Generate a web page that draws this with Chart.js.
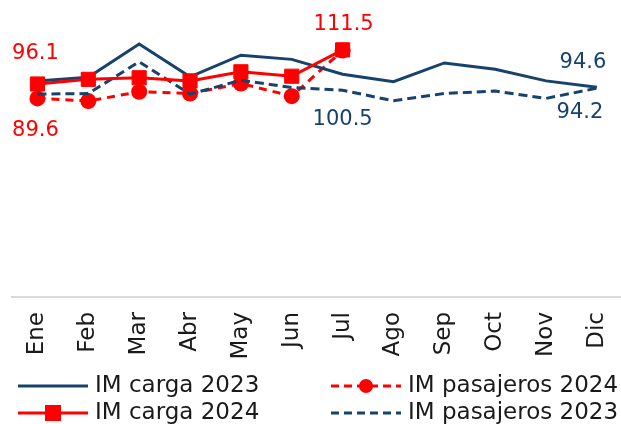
<!DOCTYPE html>
<html>
<head>
<meta charset="utf-8">
<script src="https://cdn.jsdelivr.net/npm/chart.js@4.4.1/dist/chart.umd.min.js"></script>
<style>
html, body { margin: 0; padding: 0; overflow: hidden; background: #fff; }
canvas { display: block; }
</style>
</head>
<body>
<canvas id="im_chart" width="640" height="440"></canvas>
<script>
const months = ["Ene", "Feb", "Mar", "Abr", "May", "Jun", "Jul", "Ago", "Sep", "Oct", "Nov", "Dic"];

const carga_2023 = [97.4, 99.1, 114.1, 99.3, 109.1, 107.2, 100.5, 97.1, 105.6, 102.7, 97.5, 94.6];
const carga_2024 = [96.1, 98.2, 98.9, 97.5, 101.6, 99.6, 111.5];
const pasajeros_2024 = [89.6, 88.4, 92.6, 91.8, 96.3, 90.6, 111.2];
const pasajeros_2023 = [91.5, 91.8, 106.1, 91.5, 97.8, 94.5, 93.3, 88.5, 91.8, 92.9, 89.6, 94.2];

const navy = "#17426e";
const red = "#ff0000";
const font_name = "'DejaVu Sans', sans-serif";

// which points get a value label, and where the text sits relative to the point
const value_labels = [
    { series: "IM carga 2024", index: 0, dx: -2, dy: -30, color: red },
    { series: "IM pasajeros 2024", index: 0, dx: -2, dy: 32, color: red },
    { series: "IM carga 2024", index: 6, dx: 1, dy: -25, color: red },
    { series: "IM carga 2023", index: 6, dx: 0, dy: 45, color: navy },
    { series: "IM carga 2023", index: 11, dx: -14, dy: -25, color: navy },
    { series: "IM pasajeros 2023", index: 11, dx: -17, dy: 24, color: navy },
];

// legend in two columns, as in the original
const legend_items = [
    { text: "IM carga 2023", color: navy, dash: [], marker: null, x: 18, y: 386 },
    { text: "IM pasajeros 2024", color: red, dash: [8, 5], marker: "circle", x: 331, y: 386 },
    { text: "IM carga 2024", color: red, dash: [], marker: "rect", x: 18, y: 413 },
    { text: "IM pasajeros 2023", color: navy, dash: [8, 5], marker: null, x: 331, y: 413 },
];

const valueLabelPlugin = {
    id: "valueLabels",
    afterDatasetsDraw(chart) {
        const ctx = chart.ctx;
        ctx.save();
        ctx.font = "21px " + font_name;
        ctx.textAlign = "center";
        ctx.textBaseline = "middle";
        value_labels.forEach((lbl) => {
            const ds_index = chart.data.datasets.findIndex((d) => d.label === lbl.series);
            const point = chart.getDatasetMeta(ds_index).data[lbl.index];
            const value = chart.data.datasets[ds_index].data[lbl.index];
            ctx.fillStyle = lbl.color;
            ctx.fillText(value.toFixed(1), point.x + lbl.dx, point.y + lbl.dy);
        });
        ctx.restore();
    }
};

const legendPlugin = {
    id: "twoColumnLegend",
    afterDraw(chart) {
        const ctx = chart.ctx;
        ctx.save();
        legend_items.forEach((item) => {
            ctx.strokeStyle = item.color;
            ctx.lineWidth = 3;
            ctx.setLineDash(item.dash);
            ctx.beginPath();
            ctx.moveTo(item.x, item.y);
            ctx.lineTo(item.x + 70, item.y);
            ctx.stroke();
            ctx.setLineDash([]);
            ctx.fillStyle = item.color;
            if (item.marker === "circle") {
                ctx.beginPath();
                ctx.arc(item.x + 35, item.y, 7, 0, Math.PI * 2);
                ctx.fill();
            } else if (item.marker === "rect") {
                ctx.fillRect(item.x + 27, item.y - 8, 16, 16);
            }
            ctx.fillStyle = "#1a1a1a";
            ctx.font = "23px " + font_name;
            ctx.textAlign = "left";
            ctx.textBaseline = "middle";
            ctx.fillText(item.text, item.x + 77, item.y);
        });
        ctx.restore();
    }
};

const im_ctx = document.getElementById("im_chart").getContext("2d");

const im_data = {
    labels: months,
    datasets: [
        {
            label: "IM carga 2024",
            data: carga_2024,
            borderColor: red,
            backgroundColor: red,
            borderWidth: 3,
            pointStyle: "rect",
            pointRadius: 10,
            pointBorderWidth: 1,
        },
        {
            label: "IM carga 2023",
            data: carga_2023,
            borderColor: navy,
            backgroundColor: navy,
            borderWidth: 3,
            pointRadius: 0,
        },
        {
            label: "IM pasajeros 2023",
            data: pasajeros_2023,
            borderColor: navy,
            backgroundColor: navy,
            borderWidth: 3,
            borderDash: [9, 5],
            pointRadius: 0,
        },
        {
            label: "IM pasajeros 2024",
            data: pasajeros_2024,
            borderColor: red,
            backgroundColor: red,
            borderWidth: 3,
            borderDash: [8, 6],
            pointStyle: "circle",
            pointRadius: 8,
            pointBorderWidth: 0,
        }
    ]
};

const im_config = {
    type: "line",
    data: im_data,
    options: {
        responsive: false,
        animation: false,
        layout: {
            padding: { left: 12, right: 7, top: 31, bottom: 0 }
        },
        elements: {
            line: { tension: 0 }
        },
        scales: {
            x: {
                offset: true,
                grid: { display: false, drawTicks: false },
                border: { display: true, color: "#d9d9d9", width: 2 },
                ticks: {
                    minRotation: 90,
                    maxRotation: 90,
                    padding: 15,
                    color: "#1a1a1a",
                    font: { family: font_name, size: 23 }
                },
                afterFit(scale) {
                    scale.height = 143;
                }
            },
            y: {
                display: false,
                min: 0,
                max: 120
            }
        },
        plugins: {
            legend: { display: false },
            tooltip: { enabled: false }
        }
    },
    plugins: [valueLabelPlugin, legendPlugin]
};

const im_line_chart = new Chart(im_ctx, im_config);
</script>
</body>
</html>
